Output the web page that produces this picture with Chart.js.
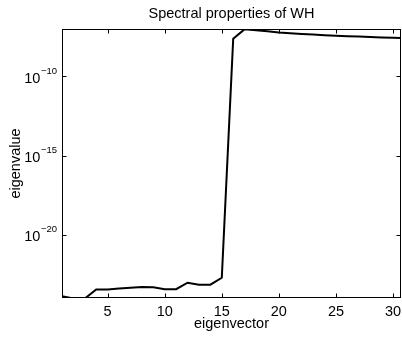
<!DOCTYPE html>
<html>
<head>
    <title>Spectral properties of WH</title>
    <script src="https://cdn.jsdelivr.net/npm/chart.js"></script>
    <style>
        body { margin: 0; background: #fff; }
    </style>
</head>
<body>
    <canvas id="chart" width="402" height="337"></canvas>

    <script>
        // data
        const eigIndex = [1, 2, 3, 4, 5, 6, 7, 8, 9, 10, 11, 12, 13, 14, 15, 16,
            17, 18, 19, 20, 21, 22, 23, 24, 25, 26, 27, 28, 29, 30, 31];
        const eigValues = [1.3e-24, 9.3e-25, 9.3e-25, 3.5e-24, 3.5e-24, 4.0e-24, 4.5e-24, 4.9e-24,
            4.7e-24, 3.6e-24, 3.6e-24, 9.3e-24, 6.9e-24, 6.9e-24, 1.9e-23, 2.45e-8,
            9.8e-8, 8.4e-8, 7.2e-8, 6.0e-8, 5.4e-8, 4.9e-8, 4.5e-8, 4.1e-8, 3.8e-8,
            3.5e-8, 3.3e-8, 3.1e-8, 2.95e-8, 2.8e-8, 2.65e-8];
        const xTicks = [5, 10, 15, 20, 25, 30];
        const yTicks = [1e-20, 1e-15, 1e-10];
        const yTickExp = ['\u221220', '\u221215', '\u221210'];

        const FONT = '"Liberation Sans", Arial, Helvetica, sans-serif';

        // matlab style box, inside ticks and all the text
        const matlabAxes = {
            id: 'matlabAxes',
            afterDraw(chart) {
                const ctx = chart.ctx;
                const a = chart.chartArea;
                const xs = chart.scales.x;
                const ys = chart.scales.y;
                const L = Math.round(a.left) + 0.5, R = Math.round(a.right) - 0.5;
                const T = Math.round(a.top) + 0.5, B = Math.round(a.bottom) - 0.5;
                ctx.save();
                ctx.strokeStyle = '#000';
                ctx.lineWidth = 1;
                ctx.strokeRect(L, T, R - L, B - T);

                ctx.beginPath();
                xTicks.forEach(v => {
                    const px = Math.round(xs.getPixelForValue(v)) + 0.5;
                    ctx.moveTo(px, B); ctx.lineTo(px, B - 4);
                    ctx.moveTo(px, T); ctx.lineTo(px, T + 4);
                });
                yTicks.forEach(v => {
                    const py = Math.round(ys.getPixelForValue(v)) + 0.5;
                    ctx.moveTo(L, py); ctx.lineTo(L + 4, py);
                    ctx.moveTo(R, py); ctx.lineTo(R - 4, py);
                });
                ctx.stroke();

                ctx.fillStyle = '#000';
                // x tick labels
                ctx.font = '14.5px ' + FONT;
                ctx.textAlign = 'center';
                ctx.textBaseline = 'alphabetic';
                xTicks.forEach(v => {
                    ctx.fillText(String(v), xs.getPixelForValue(v), 316);
                });

                // y tick labels as 10 with raised exponent
                yTicks.forEach((v, i) => {
                    const py = ys.getPixelForValue(v);
                    ctx.font = '9.5px ' + FONT;
                    const ew = ctx.measureText(yTickExp[i]).width;
                    ctx.textAlign = 'left';
                    ctx.fillText(yTickExp[i], 57 - ew, py - 2.5);
                    ctx.font = '14.5px ' + FONT;
                    ctx.textAlign = 'right';
                    ctx.fillText('10', 57 - ew - 0.5, py + 6.5);
                });

                // title and axis names
                ctx.textAlign = 'center';
                ctx.font = '14.5px ' + FONT;
                ctx.fillText('Spectral properties of WH', (a.left + a.right) / 2, 18);
                ctx.fillText('eigenvector', (a.left + a.right) / 2, 328);

                ctx.translate(19.5, (a.top + a.bottom) / 2);
                ctx.rotate(-Math.PI / 2);
                ctx.fillText('eigenvalue', 0, 0);
                ctx.restore();
            }
        };

        new Chart(document.getElementById('chart').getContext('2d'), {
            type: 'line',
            data: {
                labels: eigIndex,
                datasets: [{
                    data: eigIndex.map((x, i) => ({ x: x, y: eigValues[i] })),
                    borderColor: '#000',
                    borderWidth: 2,
                    pointRadius: 0,
                    tension: 0,
                    fill: false
                }]
            },
            options: {
                responsive: false,
                animation: false,
                layout: { padding: { left: 62, right: 1, top: 29, bottom: 39 } },
                plugins: {
                    legend: { display: false },
                    title: { display: false },
                    tooltip: { enabled: false }
                },
                scales: {
                    x: { type: 'linear', min: 1, max: 30.7, display: false },
                    y: { type: 'logarithmic', min: 1e-24, max: 1e-7, display: false }
                }
            },
            plugins: [matlabAxes]
        });
    </script>
</body>
</html>
